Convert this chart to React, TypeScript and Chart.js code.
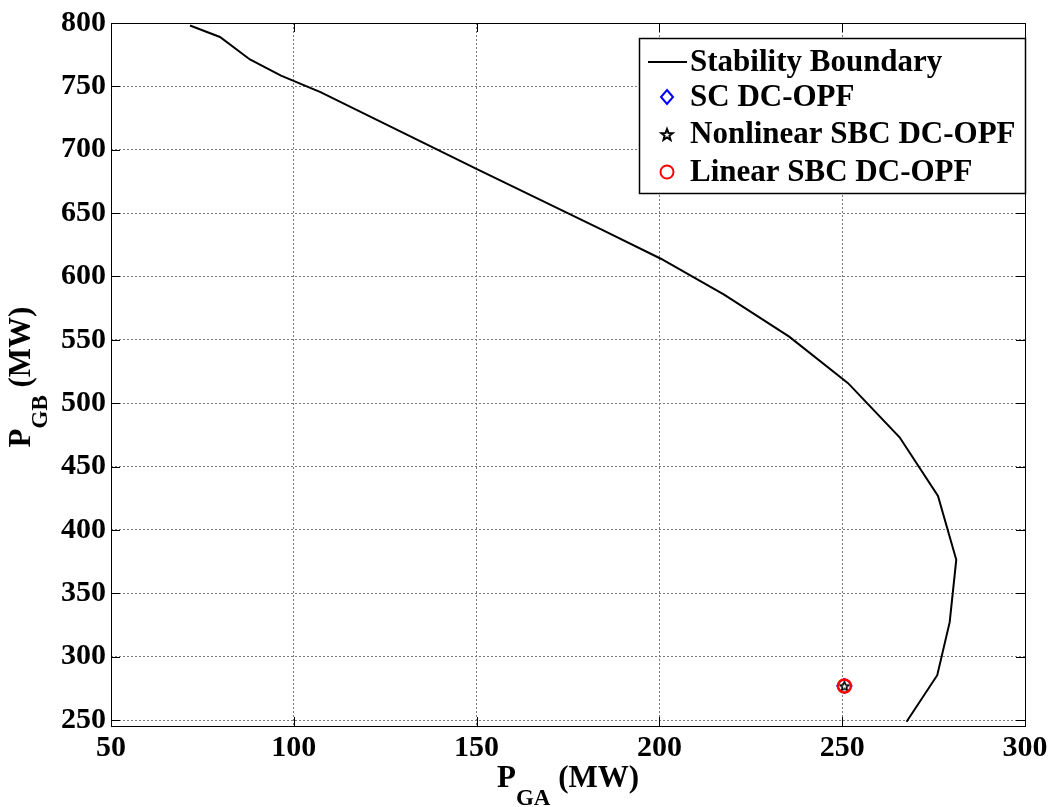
import React, { useEffect, useRef } from "react";
import { Chart, registerables } from "chart.js";

Chart.register(...registerables);

// ---- data ----
const boundaryX = [71.6, 79.8, 88.0, 96.5, 107.3, 128.0, 150.1, 184.5, 200.4, 217.7, 235.5, 251.6, 265.7, 276.2, 281.2, 279.4, 276.0, 267.6];
const boundaryY = [798.0, 789.0, 771.2, 758.5, 745.5, 716.0, 684.7, 636.5, 614.0, 585.7, 552.5, 515.8, 473.1, 426.8, 376.5, 327.2, 285.4, 248.7];
const scX = [250.6];
const scY = [276.9];
const nlX = [250.6];
const nlY = [276.9];
const lnX = [250.6];
const lnY = [276.9];
const xTicks = [50, 100, 150, 200, 250, 300];
const yTicks = [250, 300, 350, 400, 450, 500, 550, 600, 650, 700, 750, 800];
const seriesLabels = ["Stability Boundary", "SC DC-OPF", "Nonlinear SBC DC-OPF", "Linear SBC DC-OPF"];
const xTitleParts = ["P", "GA", " (MW)"];
const yTitleParts = ["P", "GB", " (MW)"];

const FONT = '"Liberation Serif", "Times New Roman", serif';

function starPath(ctx: CanvasRenderingContext2D, cx: number, cy: number, r: number) {
  const ri = r * 0.42;
  ctx.beginPath();
  for (let i = 0; i < 10; i++) {
    const rr = i % 2 === 0 ? r : ri;
    const ang = -Math.PI / 2 + (i * Math.PI) / 5;
    const px = cx + rr * Math.cos(ang);
    const py = cy + rr * Math.sin(ang);
    if (i === 0) ctx.moveTo(px, py);
    else ctx.lineTo(px, py);
  }
  ctx.closePath();
}

function makeStarCanvas(r: number, color: string, lw: number) {
  const c = document.createElement("canvas");
  const s = Math.ceil(2 * r + 2 * lw + 2);
  c.width = s;
  c.height = s;
  const ctx = c.getContext("2d")!;
  ctx.strokeStyle = color;
  ctx.lineWidth = lw;
  starPath(ctx, s / 2, s / 2 + 0.5, r);
  ctx.stroke();
  return c;
}

function drawTitle(ctx: CanvasRenderingContext2D, parts: string[], cx: number, baseline: number, subOffset: number) {
  const mainF = `bold 31px ${FONT}`;
  const subF = `bold 23px ${FONT}`;
  ctx.font = mainF;
  const w0 = ctx.measureText(parts[0]).width;
  const w2 = ctx.measureText(parts[2]).width;
  ctx.font = subF;
  const w1 = ctx.measureText(parts[1]).width;
  const total = w0 + w1 + w2;
  let x = cx - total / 2;
  ctx.textAlign = "left";
  ctx.textBaseline = "alphabetic";
  ctx.fillStyle = "#000";
  ctx.font = mainF;
  ctx.fillText(parts[0], x, baseline);
  x += w0;
  ctx.font = subF;
  ctx.fillText(parts[1], x, baseline + subOffset);
  x += w1;
  ctx.font = mainF;
  ctx.fillText(parts[2], x, baseline);
}

const decorPlugin = {
  id: "decor",
  afterDraw(chart: any) {
    const { ctx, chartArea: a, scales } = chart;
    ctx.save();
    // box
    ctx.strokeStyle = "#000";
    ctx.lineWidth = 1;
    ctx.setLineDash([]);
    ctx.strokeRect(Math.round(a.left) + 0.5, Math.round(a.top) + 0.5, Math.round(a.right - a.left), Math.round(a.bottom - a.top));
    // inner ticks
    const tl = 9;
    ctx.beginPath();
    xTicks.forEach((v) => {
      const px = Math.round(scales.x.getPixelForValue(v)) + 0.5;
      ctx.moveTo(px, a.bottom);
      ctx.lineTo(px, a.bottom - tl);
      ctx.moveTo(px, a.top);
      ctx.lineTo(px, a.top + tl);
    });
    yTicks.forEach((v) => {
      const py = Math.round(scales.y.getPixelForValue(v)) + 0.5;
      ctx.moveTo(a.left, py);
      ctx.lineTo(a.left + tl, py);
      ctx.moveTo(a.right, py);
      ctx.lineTo(a.right - tl, py);
    });
    ctx.stroke();

    // legend
    const lx = 639, ly = 38, lw = a.right - 639, lh = 155;
    ctx.fillStyle = "#fff";
    ctx.fillRect(lx, ly, lw, lh);
    ctx.strokeStyle = "#000";
    ctx.lineWidth = 1.5;
    ctx.strokeRect(lx + 0.5, ly + 0.5, lw, lh);
    const rows = [62, 97, 134, 172];
    const mx = 667;
    // line sample
    ctx.lineWidth = 2;
    ctx.beginPath();
    ctx.moveTo(648, rows[0]);
    ctx.lineTo(687, rows[0]);
    ctx.stroke();
    // diamond
    ctx.strokeStyle = "#0000ff";
    ctx.lineWidth = 2;
    ctx.beginPath();
    ctx.moveTo(mx, rows[1] - 7);
    ctx.lineTo(mx + 6, rows[1]);
    ctx.lineTo(mx, rows[1] + 7);
    ctx.lineTo(mx - 6, rows[1]);
    ctx.closePath();
    ctx.stroke();
    // star
    ctx.strokeStyle = "#000";
    ctx.lineWidth = 2;
    starPath(ctx, mx, rows[2] + 1, 6);
    ctx.stroke();
    // circle
    ctx.strokeStyle = "#ff0000";
    ctx.lineWidth = 2;
    ctx.beginPath();
    ctx.arc(mx, rows[3], 6.5, 0, Math.PI * 2);
    ctx.stroke();
    // texts
    ctx.fillStyle = "#000";
    ctx.font = `bold 31px ${FONT}`;
    ctx.textAlign = "left";
    ctx.textBaseline = "middle";
    seriesLabels.forEach((t, i) => ctx.fillText(t, 690, rows[i] + 1));

    // axis titles
    drawTitle(ctx, xTitleParts, (a.left + a.right) / 2, 787, 18);
    ctx.save();
    ctx.translate(30, 377);
    ctx.rotate(-Math.PI / 2);
    drawTitle(ctx, yTitleParts, 0, 0, 17);
    ctx.restore();

    ctx.restore();
  },
};

export default function App() {
  const ref = useRef<HTMLCanvasElement | null>(null);
  useEffect(() => {
    if (!ref.current) return;
    const starImg = makeStarCanvas(5, "#000", 1.5);
    const chart = new Chart(ref.current, {
      type: "scatter",
      data: {
        datasets: [
          {
            label: seriesLabels[0],
            data: boundaryX.map((x, i) => ({ x, y: boundaryY[i] })),
            showLine: true,
            borderColor: "#000",
            borderWidth: 2,
            pointRadius: 0,
            fill: false,
            order: 4,
          },
          {
            label: seriesLabels[1],
            data: scX.map((x, i) => ({ x, y: scY[i] })),
            pointStyle: "rectRot",
            pointRadius: 8,
            borderColor: "#0000ff",
            backgroundColor: "rgba(0,0,0,0)",
            borderWidth: 1,
            order: 3,
          },
          {
            label: seriesLabels[2],
            data: nlX.map((x, i) => ({ x, y: nlY[i] })),
            pointStyle: starImg as any,
            pointRadius: 5,
            borderColor: "#000",
            order: 2,
          },
          {
            label: seriesLabels[3],
            data: lnX.map((x, i) => ({ x, y: lnY[i] })),
            pointStyle: "circle",
            pointRadius: 6.5,
            borderColor: "#ff0000",
            backgroundColor: "rgba(0,0,0,0)",
            borderWidth: 2.5,
            order: 1,
          },
        ],
      },
      options: {
        animation: false,
        responsive: true,
        maintainAspectRatio: false,
        layout: { padding: { top: 20, right: 28, left: 0, bottom: 0 } },
        plugins: {
          legend: { display: false },
          tooltip: { enabled: false },
          title: { display: false },
        },
        scales: {
          x: {
            type: "linear",
            min: 50,
            max: 300,
            afterBuildTicks: (s: any) => {
              s.ticks = xTicks.map((v) => ({ value: v }));
            },
            afterFit: (s: any) => {
              s.height = 81;
            },
            grid: { color: "#7a7a7a", lineWidth: 1, drawTicks: false },
            border: { display: false, dash: [2, 2] },
            ticks: {
              padding: 4,
              color: "#000",
              font: { family: FONT, size: 30, weight: "bold" },
              maxRotation: 0,
            },
          },
          y: {
            type: "linear",
            min: 245.3,
            max: 800,
            afterBuildTicks: (s: any) => {
              s.ticks = yTicks.map((v) => ({ value: v }));
            },
            afterFit: (s: any) => {
              s.width = 111;
            },
            grid: { color: "#7a7a7a", lineWidth: 1, drawTicks: false },
            border: { display: false, dash: [2, 2] },
            ticks: {
              padding: 5,
              color: "#000",
              font: { family: FONT, size: 30, weight: "bold" },
            },
          },
        },
      },
      plugins: [decorPlugin],
    });
    return () => chart.destroy();
  }, []);
  return (
    <div style={{ position: "fixed", left: 0, top: 0, width: 1053, height: 807, background: "#fff" }}>
      <canvas ref={ref} />
    </div>
  );
}
